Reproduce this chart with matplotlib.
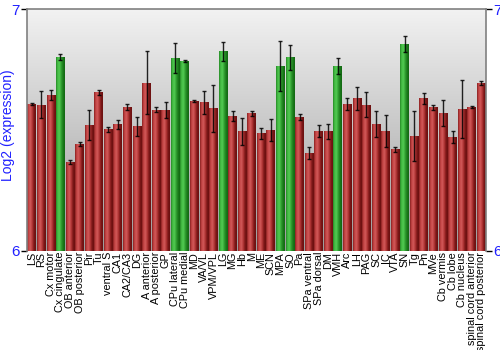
import numpy as np
import matplotlib as mpl
import matplotlib.pyplot as plt
from matplotlib.colors import LinearSegmentedColormap

mpl.rcParams['font.family'] = ['Liberation Sans', 'DejaVu Sans']

regions = [
    'LS', 'RS', 'Cx motor', 'Cx cingulate', 'OB anterior', 'OB posterior',
    'Pir', 'Tu', 'ventral S', 'CA1', 'CA2/CA3', 'DG', 'A anterior',
    'A posterior', 'GP', 'CPu lateral', 'CPu medial', 'MD', 'VA/VL',
    'VPM/VPL', 'LG', 'MG', 'Hb', 'M', 'ME', 'SCN', 'MPA', 'SO', 'Pa',
    'SPa ventral', 'SPa dorsal', 'DM', 'VMH', 'Arc', 'LH', 'PAG', 'SC', 'IC',
    'VTA', 'SN', 'Tg', 'Pn', 'MVe', 'Cb vermis', 'Cb lobe', 'Cb nucleus',
    'spinal cord anterior', 'spinal cord posterior',
]
expression = [
    6.607, 6.604, 6.643, 6.801, 6.367, 6.440, 6.520, 6.656, 6.503, 6.523,
    6.595, 6.514, 6.696, 6.583, 6.582, 6.798, 6.785, 6.619, 6.614, 6.590,
    6.826, 6.558, 6.494, 6.568, 6.485, 6.498, 6.764, 6.801, 6.554, 6.404,
    6.495, 6.495, 6.765, 6.608, 6.631, 6.604, 6.525, 6.495, 6.420, 6.856,
    6.474, 6.631, 6.594, 6.569, 6.470, 6.586, 6.594, 6.694,
]
errors = [
    0.005, 0.057, 0.021, 0.012, 0.010, 0.008, 0.063, 0.010, 0.010, 0.019,
    0.011, 0.041, 0.130, 0.010, 0.034, 0.061, 0.005, 0.005, 0.048, 0.097,
    0.039, 0.021, 0.057, 0.012, 0.024, 0.046, 0.102, 0.052, 0.012, 0.026,
    0.025, 0.031, 0.034, 0.025, 0.048, 0.052, 0.055, 0.068, 0.010, 0.032,
    0.102, 0.022, 0.010, 0.055, 0.025, 0.119, 0.003, 0.008,
]
highlighted = {'Cx cingulate', 'CPu lateral', 'CPu medial', 'LG', 'MPA',
               'SO', 'VMH', 'SN'}
ymin, ymax = 6, 7

# shaded "cylinder" look for the bars
red_cmap = LinearSegmentedColormap.from_list(
    'red_cyl', ['#8a2020', '#c84848', '#d05858', '#b03434', '#7a1616', '#6a1010'])
green_cmap = LinearSegmentedColormap.from_list(
    'green_cyl', ['#268a26', '#48c048', '#50c850', '#309c30', '#1a7a1a', '#126612'])
# background: light at the top, darker towards the bottom
bg_cmap = LinearSegmentedColormap.from_list('bg', ['#9c9c9c', '#f2f2f2'])

fig = plt.figure(figsize=(5, 3.5), dpi=100)
ax = fig.add_axes([0.054, 0.284, 0.918, 0.690])

x = np.arange(len(regions))
ax.set_xlim(-0.5, len(regions) - 0.5)
ax.set_ylim(ymin, ymax)

grad = np.linspace(0, 1, 256).reshape(-1, 1)
ax.imshow(grad, extent=[-0.5, len(regions) - 0.5, ymin, ymax], aspect='auto',
          cmap=bg_cmap, zorder=0, origin='lower')

bars = ax.bar(x, np.array(expression) - ymin, bottom=ymin, width=0.92,
              color='none', edgecolor='none', zorder=2)
hgrad = np.linspace(0, 1, 64).reshape(1, -1)
for bar, name in zip(bars, regions):
    cmap = green_cmap if name in highlighted else red_cmap
    x0 = bar.get_x()
    x1 = x0 + bar.get_width()
    top = bar.get_y() + bar.get_height()
    im = ax.imshow(hgrad, extent=[x0, x1, ymin, top], aspect='auto',
                   cmap=cmap, zorder=2)
    im.set_clip_path(bar)

ax.errorbar(x, expression, yerr=errors, fmt='none', ecolor='black',
            elinewidth=1.0, capsize=1.5, capthick=1.0, alpha=0.85, zorder=3)

ax.set_xticks(x)
ax.set_xticklabels(regions, rotation=90, fontsize=7.8)
ax.tick_params(axis='x', length=0, pad=1)

ax.set_yticks([ymin, ymax])
ax.set_yticklabels(['6', '7'], color='#2020ff', fontsize=11)
ax.tick_params(axis='y', length=4, width=1, pad=1, right=True, labelright=True)
ax.set_ylabel('Log2 (expression)', color='#2020ff', fontsize=10)
ax.yaxis.set_label_coords(-0.027, 0.52)

for side in ['top', 'left', 'right']:
    ax.spines[side].set_color('#808080')
    ax.spines[side].set_linewidth(1.2)
ax.spines['bottom'].set_visible(False)

fig.savefig('out.png', dpi=100)
